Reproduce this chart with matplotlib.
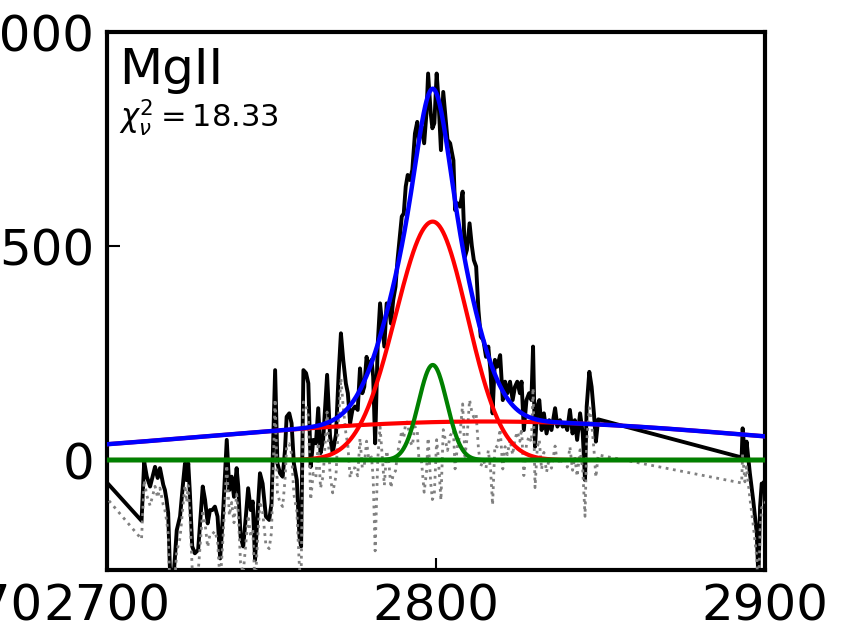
import numpy as np
import matplotlib
matplotlib.use("Agg")
import matplotlib.pyplot as plt

wave = [2700.6, 2710.5, 2711.3, 2712.1, 2713.1, 2714.6, 2715.4, 2716.1, 2717.1, 2717.6,
        2718.1, 2718.6, 2719.1, 2720.0, 2721.2, 2722.2, 2723.2, 2723.7, 2724.2, 2724.7,
        2725.2, 2725.9, 2726.7, 2727.7, 2729.1, 2729.8, 2730.6, 2731.3, 2732.0, 2732.8,
        2733.6, 2734.4, 2735.3, 2736.4, 2737.2, 2737.9, 2738.6, 2739.4, 2739.9, 2740.6,
        2741.4, 2742.2, 2742.9, 2743.7, 2744.3, 2745.0, 2745.7, 2746.5, 2747.3, 2748.3,
        2749.3, 2750.0, 2751.1, 2751.8, 2752.6, 2753.4, 2754.1, 2754.6, 2755.4, 2756.1,
        2756.8, 2757.7, 2758.5, 2759.0, 2759.7, 2760.5, 2761.2, 2761.9, 2762.7, 2763.5,
        2764.2, 2764.9, 2765.7, 2766.9, 2767.8, 2768.6, 2769.6, 2770.4, 2771.1, 2771.8,
        2772.6, 2773.2, 2773.9, 2774.6, 2775.4, 2776.2, 2776.9, 2777.6, 2778.2, 2778.9,
        2779.6, 2780.4, 2780.9, 2781.5, 2782.3, 2783.0, 2783.7, 2784.3, 2785.0, 2785.7,
        2786.3, 2787.0, 2787.7, 2788.3, 2789.1, 2789.6, 2790.2, 2790.8, 2791.4, 2792.1,
        2792.8, 2793.6, 2794.3, 2794.8, 2795.6, 2796.4, 2797.1, 2797.6, 2798.4, 2798.9,
        2799.5, 2800.2, 2800.7, 2801.5, 2802.2, 2802.7, 2803.5, 2804.3, 2805.3, 2805.8,
        2806.5, 2807.3, 2808.1, 2808.8, 2809.4, 2810.2, 2810.9, 2811.5, 2812.2, 2812.9,
        2813.6, 2814.4, 2815.2, 2815.9, 2816.6, 2817.2, 2817.9, 2818.6, 2819.5, 2820.3,
        2821.0, 2821.7, 2822.5, 2823.3, 2824.0, 2824.7, 2825.5, 2826.0, 2826.7, 2827.5,
        2828.3, 2829.0, 2829.5, 2830.1, 2830.8, 2831.4, 2832.1, 2832.8, 2833.6, 2834.4,
        2835.1, 2836.2, 2836.9, 2837.7, 2838.5, 2839.2, 2839.9, 2840.7, 2841.5, 2842.2,
        2842.9, 2843.8, 2844.6, 2845.3, 2845.8, 2846.6, 2847.3, 2848.0, 2848.6, 2849.3,
        2892.9, 2893.2, 2893.9, 2894.4, 2895.4, 2896.4, 2897.5, 2898.0, 2898.5, 2899.0,
        2899.6, 2900.3]
flux = [-58, -142, -4, -39, -62, -16, -42, -19, -58, -70,
        -93, -124, -249, -300, -164, -132, -47, -8, -47, -8,
        -78, -202, -218, -210, -62, -93, -148, -117, -117, -109,
        -132, -230, -120, 47, -70, -39, -86, -19, -62, -179,
        -202, -132, -66, -117, -97, -234, -132, -31, -55, -132,
        -140, -101, 210, -8, -31, -39, 23, 101, 109, 86,
        -8, -47, -179, -202, 210, 203, 179, -16, 47, 39,
        121, 16, 47, 199, 55, 16, 60, 200, 296, 234,
        179, 156, 86, 117, 125, 117, 214, 156, 171, 241,
        210, 234, 195, 39, 273, 366, 312, 265, 366, 358,
        319, 374, 405, 467, 530, 569, 576, 639, 666, 654,
        678, 763, 790, 748, 779, 740, 810, 903, 810, 775,
        787, 903, 849, 724, 860, 818, 748, 740, 700, 584,
        600, 592, 627, 475, 491, 553, 500, 467, 452, 350,
        288, 280, 241, 265, 203, 109, 234, 218, 245, 140,
        183, 156, 183, 140, 171, 183, 156, 183, 70, 140,
        156, 140, 265, 31, 125, 140, 70, 109, 62, 93,
        70, 121, 78, 93, 78, 86, 70, 117, 62, 93,
        47, 109, 62, -47, 125, 206, 171, 109, 43, 95,
        6, 74, 8, 43, -31, -93, -171, -280, -109, -55,
        -55, -40]

# ---- fitted components: [amplitude, centre, sigma_left, sigma_right] ----
broad_comp = [90.0, 2815.0, 86.0, 86.0]     # very broad (red)
main_comp = [557.0, 2799.0, 11.3, 10.5]     # broad MgII (red)
narrow_comp = [222.0, 2799.0, 4.3, 4.3]     # narrow MgII (green)

x_ticks = [2700, 2800, 2900]
y_ticks = [0, 500, 1000]
line_name = "MgII"
chi2_text = r"$\chi^2_\nu = 18.33$"
neighbour_label = "2770"   # tick label of the adjacent (cropped) panel


def component(x, p):
    amp, cen, sl, sr = p
    x = np.asarray(x, dtype=float)
    s = np.where(x < cen, sl, sr)
    return amp * np.exp(-0.5 * ((x - cen) / s) ** 2)


def total(x):
    return component(x, broad_comp) + component(x, main_comp) + component(x, narrow_comp)


wave = np.array(wave)
flux = np.array(flux, dtype=float)
resid = flux - total(wave)

grid = np.linspace(2695, 2905, 1200)

fig = plt.figure(figsize=(8.51, 6.32), dpi=100)
ax = fig.add_axes([107 / 851, 1 - 570 / 632, (765 - 107) / 851, (570 - 32) / 632])

ax.plot(wave, flux, color="black", lw=2.8, zorder=2)
ax.plot(wave, resid, color="#808080", lw=2.0, ls=":", zorder=3)
ax.plot(grid, component(grid, broad_comp), color="red", lw=3.0, zorder=4)
ax.plot(grid, component(grid, main_comp), color="red", lw=3.0, zorder=4)
ax.plot(grid, np.zeros_like(grid), color="green", lw=3.5, zorder=5)
ax.plot(grid, component(grid, narrow_comp), color="green", lw=3.0, zorder=5)
ax.plot(grid, total(grid), color="blue", lw=3.2, zorder=6)

ax.set_xlim(2700, 2900)
ax.set_ylim(-257, 1000)
ax.set_xticks(x_ticks)
ax.set_yticks(y_ticks)
ax.tick_params(direction="in", length=9, width=1.5, labelsize=36, pad=9)
for sp in ax.spines.values():
    sp.set_linewidth(3.0)

ax.text(0.018, 0.903, line_name, transform=ax.transAxes, fontsize=36, va="baseline", ha="left")
ax.text(0.018, 0.823, chi2_text, transform=ax.transAxes, fontsize=22, va="baseline", ha="left")

# clipped tick label of the neighbouring panel on the left (only "70" visible)
fig.text(43 / 851, 1 - 582.5 / 632, neighbour_label, fontsize=36, ha="right", va="top")

fig.savefig("out.png", dpi=100)
